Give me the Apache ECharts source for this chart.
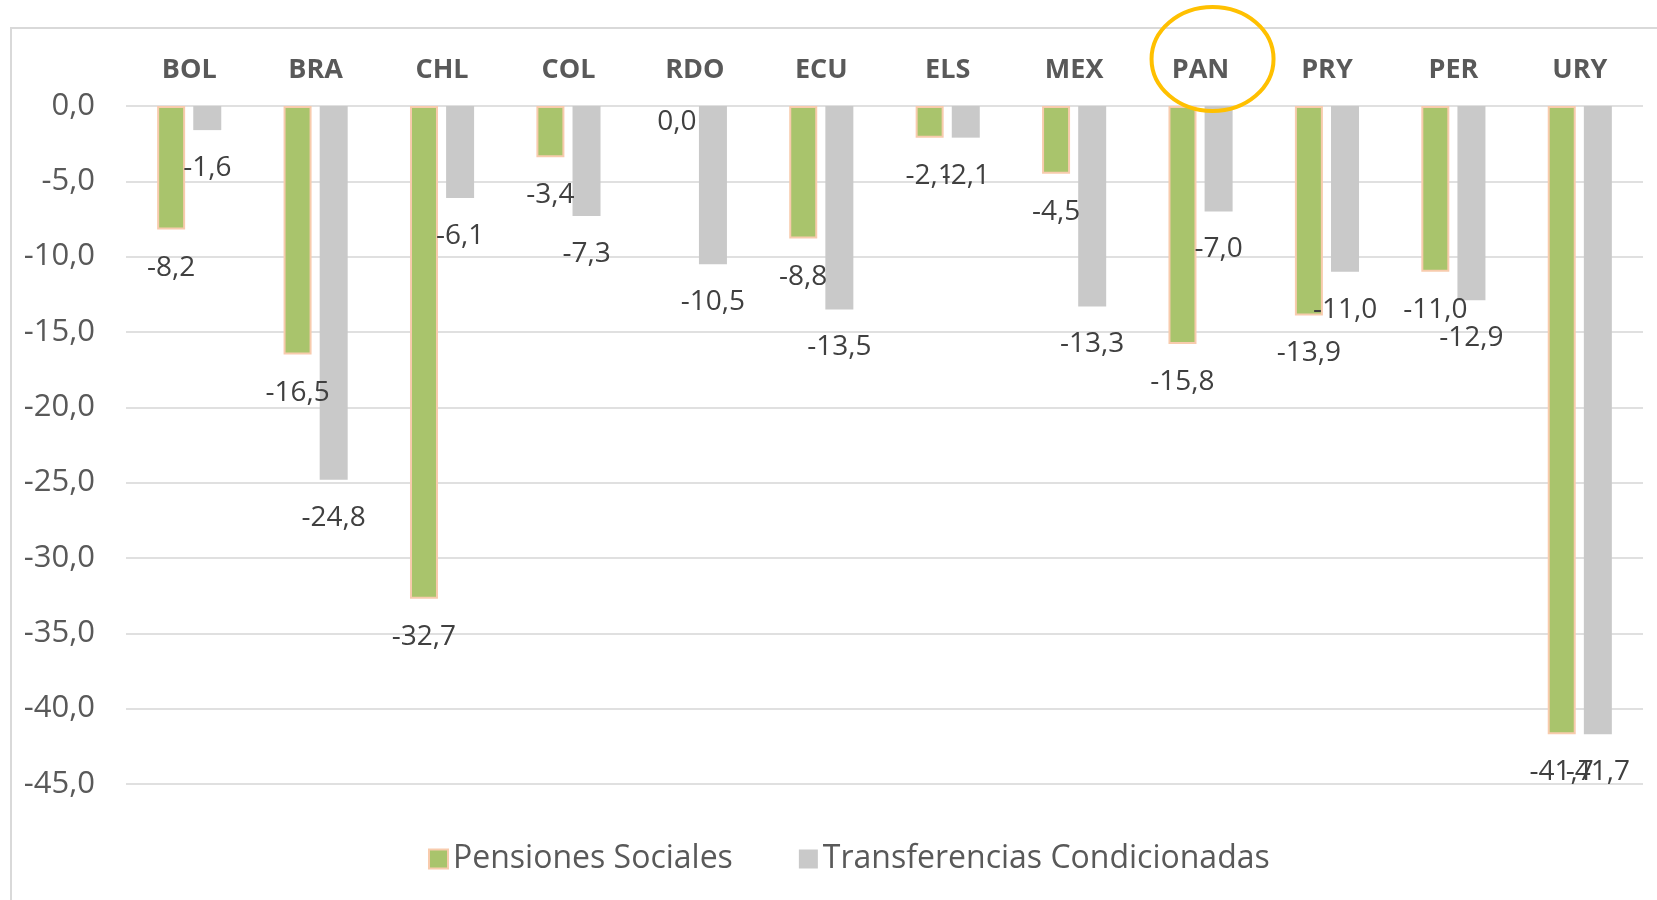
<!DOCTYPE html>
<html>
<head>
<meta charset="utf-8">
<title>Pensiones Sociales y Transferencias Condicionadas</title>
<script src="https://cdn.jsdelivr.net/npm/echarts@6/dist/echarts.min.js"></script>
<style>
  html, body { margin: 0; padding: 0; background: #fff; }
  #main { width: 1657px; height: 900px; }
</style>
</head>
<body>
<div id="main"></div>
<script>
// paises
var categories = ['BOL', 'BRA', 'CHL', 'COL', 'RDO', 'ECU', 'ELS', 'MEX', 'PAN', 'PRY', 'PER', 'URY']
var pensionesSociales = [-8.2, -16.5, -32.7, -3.4, 0.0, -8.8, -2.1, -4.5, -15.8, -13.9, -11.0, -41.7]
var transferencias = [-1.6, -24.8, -6.1, -7.3, -10.5, -13.5, -2.1, -13.3, -7.0, -11.0, -12.9, -41.7]
var seriesNames = ['Pensiones Sociales', 'Transferencias Condicionadas']
var highlighted = 'PAN'

var fontName = '"Open Sans", "Noto Sans", sans-serif'

function fmt(v) {
  return Number(v).toFixed(1).replace('.', ',')
}

var dom = echarts.init(document.getElementById('main'))

var labelStyle = {
  show: true,
  position: 'bottom',
  distance: 24,
  fontSize: 28,
  fontFamily: fontName,
  color: '#404040',
  formatter: function (p) {
    return fmt(p.value)
  }
}

// barras en cero: sin borde y etiqueta pegada a la linea
function barData(arr) {
  return arr.map(function (v) {
    if (v === 0) {
      return { value: v, itemStyle: { borderWidth: 0 }, label: { distance: 2 } }
    }
    return v
  })
}

var option = {
  backgroundColor: '#fff',
  animation: false,
  legend: {
    left: 423,
    top: 838,
    icon: 'rect',
    itemWidth: 19,
    itemHeight: 19,
    itemGap: 66,
    textStyle: {
      fontSize: 32,
      fontFamily: fontName,
      color: '#595959'
    },
    data: seriesNames
  },
  grid: {
    left: 126,
    right: 14,
    top: 106,
    bottom: 116
  },
  xAxis: {
    type: 'category',
    position: 'top',
    data: categories,
    axisLine: { show: false },
    axisTick: { show: false },
    axisLabel: {
      margin: 22,
      fontSize: 27,
      fontWeight: 'bold',
      fontFamily: fontName,
      color: '#595959'
    }
  },
  yAxis: {
    type: 'value',
    min: -45,
    max: 0,
    interval: 5,
    axisLine: { show: false },
    axisTick: { show: false },
    splitLine: {
      lineStyle: { color: '#e0e0e0', width: 2 }
    },
    axisLabel: {
      margin: 31,
      fontSize: 31,
      fontFamily: fontName,
      color: '#595959',
      formatter: fmt
    }
  },
  series: [{
    name: seriesNames[0],
    type: 'bar',
    barWidth: 28,
    barGap: '29%',
    data: barData(pensionesSociales),
    itemStyle: {
      color: '#a9c46c',
      borderColor: '#f8cbad',
      borderWidth: 2
    },
    label: labelStyle
  }, {
    name: seriesNames[1],
    type: 'bar',
    barWidth: 28,
    data: barData(transferencias),
    itemStyle: {
      color: '#c9c9c9'
    },
    label: labelStyle
  }]
}

dom.setOption(option)

// marco exterior y circulo amarillo sobre PAN
var panX = dom.convertToPixel({ xAxisIndex: 0 }, highlighted)
dom.setOption({
  graphic: [{
    type: 'rect',
    silent: true,
    z: -1,
    shape: { x: 11, y: 28, width: 1700, height: 1000 },
    style: { fill: null, stroke: '#d9d9d9', lineWidth: 2 }
  }, {
    type: 'ellipse',
    silent: true,
    z: 100,
    shape: { cx: panX + 12, cy: 59, rx: 61, ry: 52 },
    style: { fill: null, stroke: '#ffc000', lineWidth: 4 }
  }]
})
</script>
</body>
</html>
